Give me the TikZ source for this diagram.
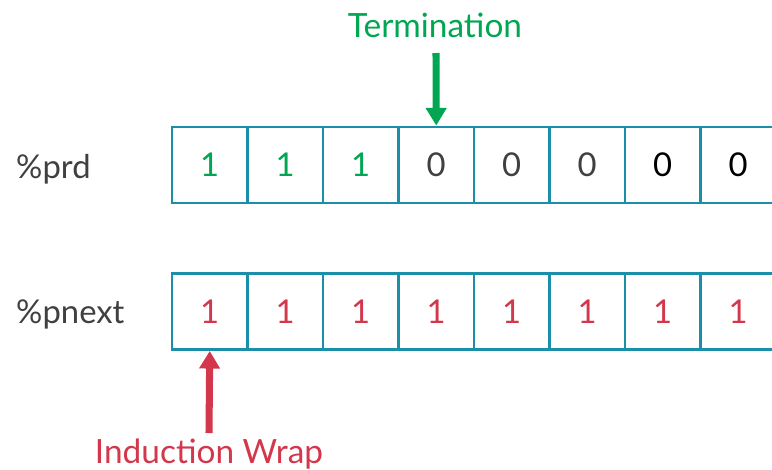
\documentclass[tikz,border=0pt]{standalone}
\usepackage{fontspec}
\setmainfont{Lato}
\usepackage{tikz}
\usetikzlibrary{positioning,arrows.meta}
\definecolor{cellblue}{RGB}{27,143,170}
\definecolor{okgreen}{RGB}{0,166,81}
\definecolor{wrapred}{RGB}{210,55,75}
\definecolor{txtgray}{RGB}{64,64,64}
\tikzset{
  cell/.style={draw=cellblue,line width=2.5pt,minimum width=2.265cm,minimum height=2.28cm,
    inner sep=0pt,font=\fontsize{28}{30}\selectfont},
  reglbl/.style={anchor=base west,inner sep=0pt,text=txtgray,font=\fontsize{28}{30}\selectfont},
  callout/.style={inner sep=0pt,font=\fontsize{28.5}{30}\selectfont},
  bigarr/.style={line width=6pt,-{Triangle[length=15pt,width=17pt]}},
}

\begin{document}
\begin{tikzpicture}[x=0.03cm,y=-0.03cm]
  \useasboundingbox (0,0) rectangle (772,470);
  \clip (0,0) rectangle (772,470);
  % register names
  \node[reglbl] (prd) at (16,178) {\%prd};
  \node[reglbl] (pnext) at (16,323) {\%pnext};
  % predicate lanes: 1 1 1 then zeros
  \foreach \i/\v/\c in {1/1/okgreen,2/1/okgreen,3/1/okgreen,4/0/txtgray,5/0/txtgray,6/0/txtgray,7/0/black,8/0/black}
    \node[cell,text=\c] (p\i) at ({172+75.5*(\i-0.5)},165) {\v};
  % next-iteration lanes, all set
  \foreach \i in {1,...,8}
    \node[cell,text=wrapred] (n\i) at ({172+75.5*(\i-0.5)},311.5) {1};
  % callouts
  \node[callout,text=okgreen,anchor=base] (term) at (435,37) {Termination};
  \coordinate (termtop) at (436,53);
  \draw[bigarr,okgreen] (termtop) -- (p4.north);
  \node[callout,text=wrapred,anchor=base] (wrap) at (209,463) {Induction Wrap};
  \coordinate (wrapbot) at (209,433);
  \draw[bigarr,wrapred] (wrapbot) -- (n1.south);
\end{tikzpicture}
\end{document}
